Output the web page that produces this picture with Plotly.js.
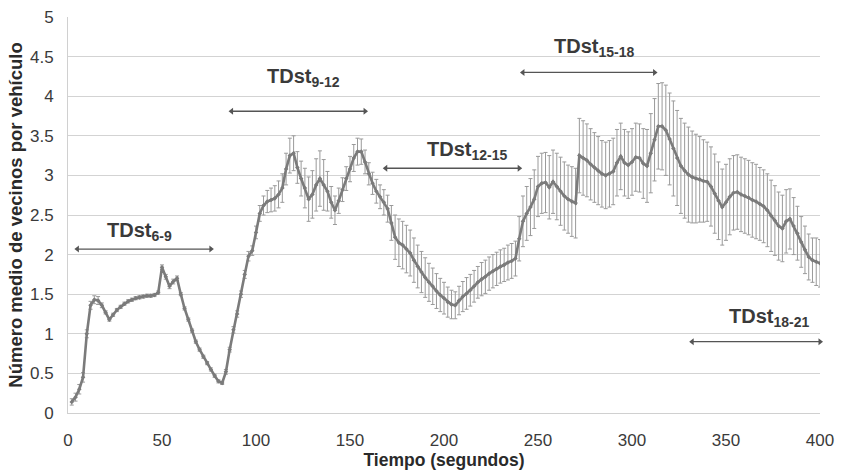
<!DOCTYPE html>
<html>
<head>
<meta charset="utf-8">
<script src="https://cdn.plot.ly/plotly-3.0.1.min.js"></script>
<style>html,body{margin:0;padding:0;background:#fff;}#chart{width:841px;height:471px;}</style>
</head>
<body>
<div id="chart"></div>
<script>
var tiempo = [
  2,4,6,8,10,12,14,16,18,20,
  22,24,26,28,30,32,34,36,38,40,
  42,44,46,48,50,52,54,56,58,60,
  62,64,66,68,70,72,74,76,78,80,
  82,84,86,88,90,92,94,96,98,100,
  102,104,106,108,110,112,114,116,118,120,
  122,124,126,128,130,132,134,136,138,140,
  142,144,146,148,150,152,154,156,158,160,
  162,164,166,168,170,172,174,176,178,180,
  182,184,186,188,190,192,194,196,198,200,
  202,204,206,208,210,212,214,216,218,220,
  222,224,226,228,230,232,234,236,238,240,
  242,244,246,248,250,252,254,256,258,260,
  262,264,266,268,270,272,274,276,278,280,
  282,284,286,288,290,292,294,296,298,300,
  302,304,306,308,310,312,314,316,318,320,
  322,324,326,328,330,332,334,336,338,340,
  342,344,346,348,350,352,354,356,358,360,
  362,364,366,368,370,372,374,376,378,380,
  382,384,386,388,390,392,394,396,398,400
];
var vecinosMedio = [
  0.14,0.20,0.30,0.45,1.00,1.36,1.43,1.42,1.36,1.27,
  1.18,1.24,1.30,1.34,1.38,1.41,1.43,1.45,1.46,1.47,
  1.48,1.48,1.49,1.52,1.84,1.72,1.60,1.66,1.70,1.50,
  1.32,1.18,1.04,0.90,0.80,0.71,0.63,0.55,0.47,0.40,
  0.38,0.52,0.80,1.05,1.25,1.50,1.75,1.98,2.05,2.28,
  2.52,2.62,2.67,2.69,2.71,2.76,2.84,3.08,3.25,3.28,
  3.10,2.96,2.84,2.70,2.76,2.88,2.96,2.88,2.80,2.66,
  2.56,2.68,2.82,2.96,3.08,3.22,3.30,3.30,3.17,3.02,
  2.90,2.80,2.73,2.66,2.58,2.40,2.22,2.15,2.12,2.07,
  2.02,1.93,1.85,1.78,1.71,1.65,1.60,1.54,1.49,1.45,
  1.40,1.37,1.36,1.42,1.47,1.51,1.55,1.60,1.65,1.69,
  1.72,1.76,1.79,1.82,1.85,1.87,1.90,1.92,1.95,2.20,
  2.42,2.52,2.60,2.70,2.86,2.90,2.91,2.85,2.92,2.86,
  2.80,2.74,2.70,2.67,2.65,3.25,3.22,3.19,3.14,3.10,
  3.06,3.02,3.00,3.02,3.05,3.16,3.24,3.16,3.13,3.17,
  3.23,3.22,3.15,3.12,3.28,3.45,3.62,3.62,3.57,3.46,
  3.34,3.22,3.12,3.06,3.01,2.98,2.96,2.95,2.93,2.92,
  2.86,2.77,2.68,2.60,2.66,2.73,2.78,2.79,2.76,2.74,
  2.72,2.69,2.67,2.64,2.61,2.56,2.49,2.43,2.36,2.33,
  2.42,2.45,2.36,2.27,2.16,2.06,1.97,1.93,1.91,1.89
];
var desviacion = [
  0.04,0.05,0.06,0.06,0.05,0.05,0.05,0.05,0.03,0.02,
  0.02,0.02,0.02,0.02,0.02,0.02,0.02,0.02,0.02,0.02,
  0.02,0.02,0.02,0.02,0.03,0.03,0.03,0.03,0.03,0.02,
  0.02,0.02,0.02,0.02,0.02,0.02,0.02,0.02,0.02,0.02,
  0.02,0.03,0.03,0.04,0.04,0.04,0.05,0.06,0.06,0.08,
  0.10,0.12,0.14,0.15,0.16,0.17,0.18,0.20,0.22,0.22,
  0.20,0.22,0.25,0.28,0.30,0.33,0.35,0.32,0.25,0.20,
  0.18,0.16,0.15,0.15,0.16,0.17,0.17,0.16,0.15,0.14,
  0.14,0.15,0.15,0.16,0.17,0.22,0.28,0.30,0.30,0.30,
  0.29,0.28,0.27,0.26,0.25,0.24,0.23,0.22,0.21,0.20,
  0.19,0.18,0.17,0.18,0.19,0.20,0.20,0.20,0.20,0.21,
  0.21,0.21,0.21,0.21,0.21,0.21,0.22,0.22,0.22,0.28,
  0.32,0.34,0.36,0.37,0.38,0.38,0.38,0.40,0.40,0.42,
  0.43,0.43,0.43,0.44,0.44,0.47,0.47,0.46,0.45,0.44,
  0.43,0.42,0.42,0.42,0.42,0.42,0.42,0.42,0.42,0.42,
  0.43,0.43,0.44,0.46,0.50,0.52,0.54,0.55,0.57,0.58,
  0.60,0.60,0.60,0.60,0.60,0.58,0.56,0.54,0.52,0.50,
  0.50,0.50,0.49,0.48,0.48,0.48,0.47,0.47,0.47,0.47,
  0.47,0.47,0.47,0.46,0.46,0.46,0.45,0.44,0.43,0.42,
  0.40,0.38,0.36,0.34,0.32,0.30,0.29,0.28,0.30,0.30
];

// Intervals (labels, start, end, arrow level, label position)
var intervalLabels = ['TDst<sub>6-9</sub>','TDst<sub>9-12</sub>','TDst<sub>12-15</sub>','TDst<sub>15-18</sub>','TDst<sub>18-21</sub>'];
var intervalStart = [5, 87, 169, 242, 332];
var intervalEnd   = [76, 158, 240, 312, 400];
var arrowLevel    = [2.07, 3.81, 3.09, 4.30, 0.90];
var labelX        = [38, 125, 212, 280, 373];
var labelY        = [2.29, 4.24, 3.31, 4.61, 1.21];

var yTicks = [0,0.5,1,1.5,2,2.5,3,3.5,4,4.5,5];
var yTickText = ['0','0.5','1','1.5','2','2.5','3','3.5','4','4.5','5'];
var xTicks = [0,50,100,150,200,250,300,350,400];

var traces = [{
  x: tiempo,
  y: vecinosMedio,
  type: 'scatter',
  mode: 'lines+markers',
  line: {color: '#7b7b7b', width: 2.6},
  marker: {color: '#7b7b7b', size: 3.5, symbol: 'diamond'},
  error_y: {type: 'data', array: desviacion, visible: true, color: '#9a9a9a', thickness: 1, width: 2},
  showlegend: false,
  hoverinfo: 'skip'
}];

for (var i = 0; i < intervalLabels.length; i++) {
  traces.push({
    x: [intervalStart[i], intervalEnd[i]],
    y: [arrowLevel[i], arrowLevel[i]],
    type: 'scatter', mode: 'lines+markers',
    line: {color: '#555555', width: 1.3},
    marker: {color: '#555555', size: 6, symbol: ['triangle-left', 'triangle-right']},
    showlegend: false, hoverinfo: 'skip', cliponaxis: false
  });
}

var annotations = [];
for (var j = 0; j < intervalLabels.length; j++) {
  annotations.push({
    x: labelX[j], y: labelY[j], xref: 'x', yref: 'y',
    text: '<b>' + intervalLabels[j] + '</b>', showarrow: false,
    font: {family: 'Liberation Sans, Arial, sans-serif', size: 20, color: '#3a3a3a'},
    xanchor: 'center', yanchor: 'middle'
  });
}

var layout = {
  width: 841, height: 471,
  margin: {l: 68, r: 21, t: 17, b: 58},
  paper_bgcolor: '#ffffff', plot_bgcolor: '#ffffff',
  font: {family: 'Liberation Sans, Arial, sans-serif', color: '#3a3a3a'},
  xaxis: {
    range: [0, 400], tickvals: xTicks, ticktext: xTicks.map(String),
    showgrid: false, zeroline: false,
    showline: true, linecolor: '#d0d0d0', linewidth: 1,
    ticks: 'outside', ticklen: 12, tickcolor: 'rgba(0,0,0,0)',
    tickfont: {size: 17, color: '#3a3a3a'},
    title: {text: '<b>Tiempo (segundos)</b>', font: {size: 17.5, color: '#2a2a2a'}, standoff: 2}
  },
  yaxis: {
    range: [0, 5], tickvals: yTicks, ticktext: yTickText,
    showgrid: true, gridcolor: '#d3d3d3', gridwidth: 1, zeroline: false,
    showline: true, linecolor: '#d0d0d0', linewidth: 1,
    ticks: 'outside', ticklen: 10, tickcolor: 'rgba(0,0,0,0)',
    tickfont: {size: 17, color: '#3a3a3a'},
    title: {text: '<b>Número medio de vecinos por vehículo</b>', font: {size: 18.5, color: '#2a2a2a'}, standoff: 2}
  },
  annotations: annotations
};

Plotly.newPlot('chart', traces, layout, {displayModeBar: false, staticPlot: true});
</script>
</body>
</html>
